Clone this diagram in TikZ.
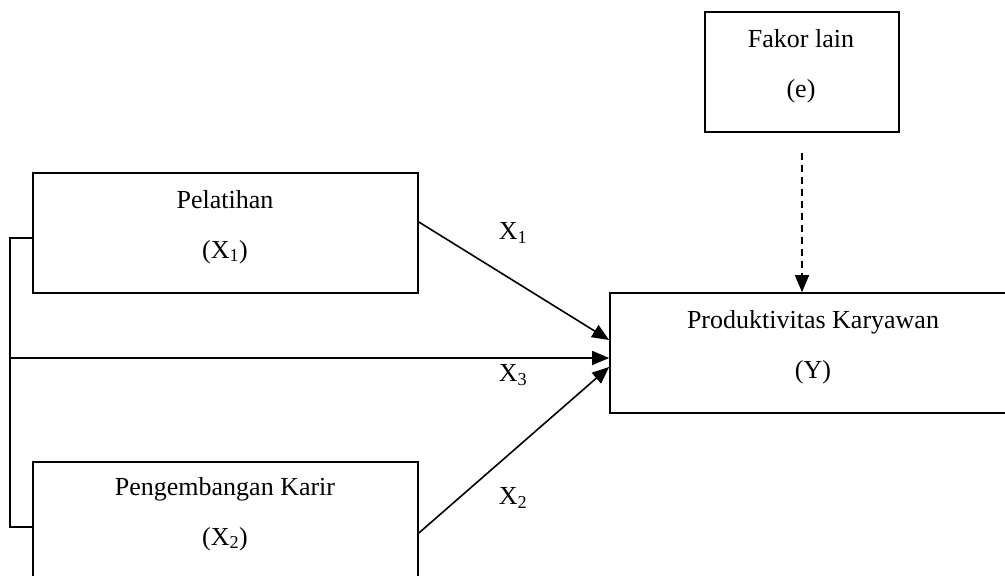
\documentclass[tikz,border=0pt]{standalone}
\usepackage{fontspec}
\setmainfont{Liberation Serif}
\usetikzlibrary{arrows.meta}
\begin{document}
\begin{tikzpicture}[x=1pt,y=-1pt,
  box/.style={draw=black, line width=1.7pt, inner sep=0pt},
  txt/.style={align=center, inner sep=0pt, font=\fontsize{26}{50}\selectfont},
  lbl/.style={inner sep=0pt, font=\fontsize{26}{30}\selectfont},
  conn/.style={line width=1.6pt},
  arr/.style={conn, -{Triangle[length=17pt,width=14pt]}},
  darr/.style={arr, dash pattern=on 7pt off 5pt}]
\useasboundingbox (0,0) rectangle (1005,576);
\clip (0,0) rectangle (1005,576);
% boxes
\node[box, minimum width=385pt, minimum height=120pt] (pel) at (225.5,233) {};
\node[box, minimum width=385pt, minimum height=120pt] (peng) at (225.5,522) {};
\node[box, minimum width=408pt, minimum height=120pt] (prod) at (814,353) {};
\node[box, minimum width=194pt, minimum height=120pt] (fak) at (802,72) {};
% texts
\node[txt] (pelT) at (225,227) {Pelatihan\\(X\textsubscript{1})};
\node[txt] (pengT) at (225,514) {Pengembangan Karir\\(X\textsubscript{2})};
\node[txt] (prodT) at (813,347) {Produktivitas Karyawan\\(Y)};
\node[txt] (fakT) at (801,66) {Fakor lain\\(e)};
% edge labels
\node[lbl] (l1) at (513,233) {X\textsubscript{1}};
\node[lbl] (l3) at (513,375) {X\textsubscript{3}};
\node[lbl] (l2) at (513,498) {X\textsubscript{2}};
% bracket
\coordinate (br) at (10,358);
\coordinate (bt) at ([yshift=-5pt]pel.west);
\coordinate (bb) at ([yshift=-5pt]peng.west);
\draw[conn] (bt) -- (br |- bt) -- (br |- bb) -- (bb);
% arrows
\draw[arr] ([yshift=11pt]pel.east) -- ([yshift=13pt]prod.west);
\draw[arr] (br) -- ([yshift=-5pt]prod.west);
\draw[arr] ([yshift=-11pt]peng.east) -- ([yshift=-14pt]prod.west);
\draw[darr] ([yshift=-20pt]fak.south) -- (fak.south |- prod.north);
\end{tikzpicture}
\end{document}
